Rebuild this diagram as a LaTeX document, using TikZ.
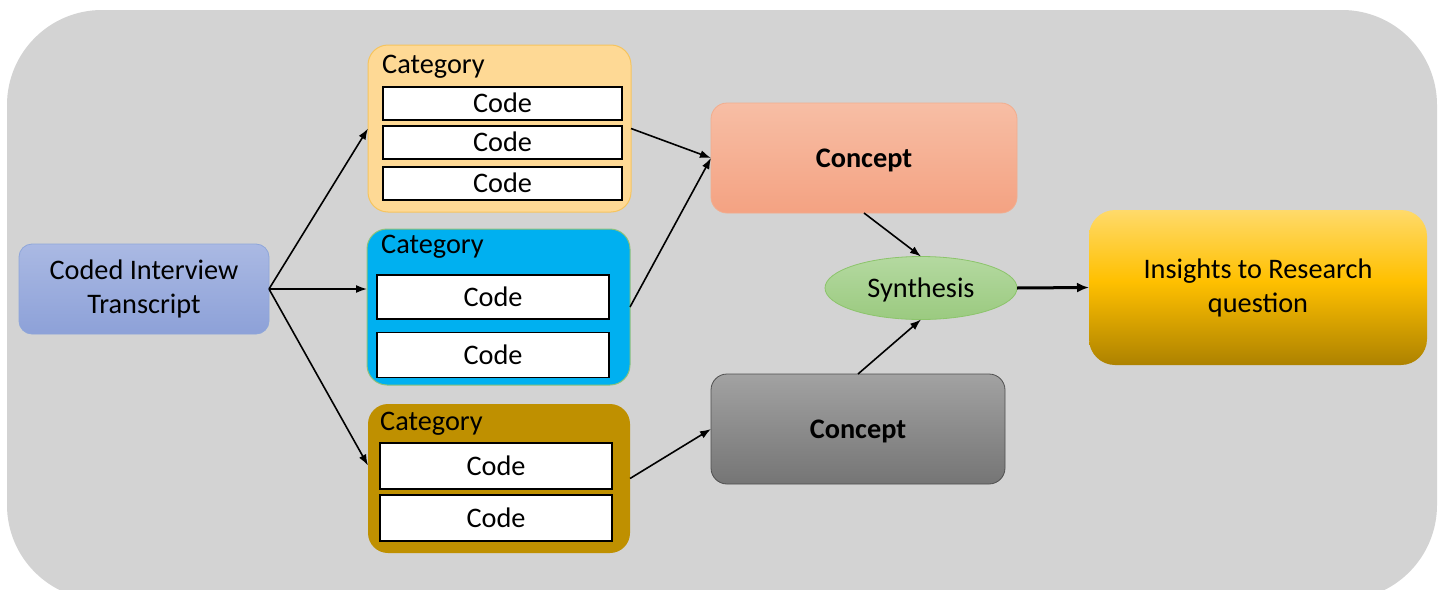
\documentclass[tikz,border=0pt]{standalone}
\usepackage{fontspec}
\setmainfont{Carlito}
\usetikzlibrary{arrows.meta,shapes.geometric}

\definecolor{bggray}{HTML}{D3D3D3}
\definecolor{trTop}{HTML}{AAB9E3}
\definecolor{trBot}{HTML}{8DA1D8}
\definecolor{trLine}{HTML}{8EA6DA}
\definecolor{catA}{HTML}{FED995}
\definecolor{catALine}{HTML}{F6C45E}
\definecolor{catB}{HTML}{00B0F0}
\definecolor{catBLine}{HTML}{8DC27A}
\definecolor{catC}{HTML}{BF9000}
\definecolor{conATop}{HTML}{F7BEA5}
\definecolor{conABot}{HTML}{F4A282}
\definecolor{conALine}{HTML}{F2AD8E}
\definecolor{conBTop}{HTML}{A2A2A2}
\definecolor{conBBot}{HTML}{757575}
\definecolor{conBLine}{HTML}{4F4F4F}
\definecolor{synTop}{HTML}{B4D9A0}
\definecolor{synBot}{HTML}{9BCA80}
\definecolor{synLine}{HTML}{8CC46B}
\definecolor{insTop}{HTML}{FFDA6A}
\definecolor{insMid}{HTML}{FFC000}
\definecolor{insBot}{HTML}{AD8200}

% golden fill of the result box: light at the top, saturated in the middle, dark at the bottom
\pgfdeclareverticalshading{insshade}{100bp}{%
  color(0bp)=(insBot); color(25bp)=(insBot); color(52bp)=(insMid);
  color(75bp)=(insTop); color(100bp)=(insTop)}

\tikzset{
  box/.style={rectangle, inner sep=0pt, outer sep=0pt, align=center},
  % one-line labels: centre the capitals on the node
  capc/.style={text height=18.2pt, text depth=0pt},
  catbox/.style={box, rounded corners=20pt, line width=1pt},
  codebox/.style={box, capc, fill=white, draw=black, line width=1.8pt},
  catlabel/.style={anchor=base west, inner sep=0pt},
  flow/.style={line width=1.6pt, -{Latex[length=11pt,width=8pt]}},
  bigflow/.style={line width=3pt, -{Latex[length=12pt,width=10pt]}}
}

\begin{document}
\begin{tikzpicture}[x=1pt, y=-1pt, font=\fontsize{28.3}{34}\selectfont]
  \useasboundingbox (0,0) rectangle (1443,589);
  \fill[bggray, rounded corners=95pt] (7,10) rectangle (1437,600);

  % source
  \node[box, rounded corners=13pt, draw=trLine, line width=0.8pt,
        top color=trTop, bottom color=trBot,
        minimum width=250pt, minimum height=90pt]
        (tr) at (144,289) {Coded Interview\\Transcript};

  % first category
  \node[catbox, fill=catA, draw=catALine, minimum width=263pt, minimum height=167pt]
        (catA) at (499.5,128.5) {};
  \node[catlabel] (catAlbl) at (382,73) {Category};
  \node[codebox, minimum width=239pt, minimum height=33pt] (a1) at (502.5,103.5) {Code};
  \node[codebox, minimum width=239pt, minimum height=33pt] (a2) at (502.5,142.5) {Code};
  \node[codebox, minimum width=239pt, minimum height=33pt] (a3) at (502.5,183.5) {Code};

  % second category
  \node[catbox, fill=catB, draw=catBLine, minimum width=263pt, minimum height=156pt]
        (catB) at (498.5,307) {};
  \node[catlabel] (catBlbl) at (381,253) {Category};
  \node[codebox, minimum width=232pt, minimum height=44pt] (b1) at (493,297) {Code};
  \node[codebox, minimum width=232pt, minimum height=45pt] (b2) at (493,355) {Code};

  % third category
  \node[catbox, fill=catC, minimum width=262pt, minimum height=149pt]
        (catC) at (499,478.5) {};
  \node[catlabel] (catClbl) at (380,430) {Category};
  \node[codebox, minimum width=232pt, minimum height=46pt] (c1) at (496,466) {Code};
  \node[codebox, minimum width=232pt, minimum height=46pt] (c2) at (496,518) {Code};

  % concepts
  \node[box, capc, rounded corners=16pt, draw=conALine, line width=0.8pt,
        top color=conATop, bottom color=conABot,
        minimum width=306pt, minimum height=110pt, font=\fontsize{28.3}{34}\selectfont\bfseries]
        (conA) at (864,158) {Concept};
  \node[box, capc, rounded corners=16pt, draw=conBLine, line width=0.8pt,
        top color=conBTop, bottom color=conBBot,
        minimum width=294pt, minimum height=110pt, font=\fontsize{28.3}{34}\selectfont\bfseries]
        (conB) at (858,429) {Concept};

  % synthesis
  \node[ellipse, capc, inner sep=0pt, outer sep=0pt, draw=synLine, line width=0.8pt,
        top color=synTop, bottom color=synBot,
        minimum width=192pt, minimum height=63pt]
        (syn) at (921,288) {Synthesis};

  % result
  \node[box, rounded corners=26pt, shading=insshade,
        minimum width=338pt, minimum height=155pt]
        (ins) at (1258,287.5) {Insights to Research\\question};

  % connectors
  \draw[flow] (tr.east) -- (catA.west);
  \draw[flow] (tr.east) -- (catB.west |- tr.east);
  \draw[flow] (tr.east) -- ([yshift=13pt]catC.west);
  \draw[flow] (catA.east) -- (conA.west);
  \draw[flow] (catB.east) -- (conA.west);
  \draw[flow] (catC.east) -- (conB.west);
  \draw[flow] (conA.south) -- (syn.north);
  \draw[flow] (conB.north) -- (syn.south);
  \draw[bigflow] (syn.east) -- (ins.west);
\end{tikzpicture}
\end{document}
